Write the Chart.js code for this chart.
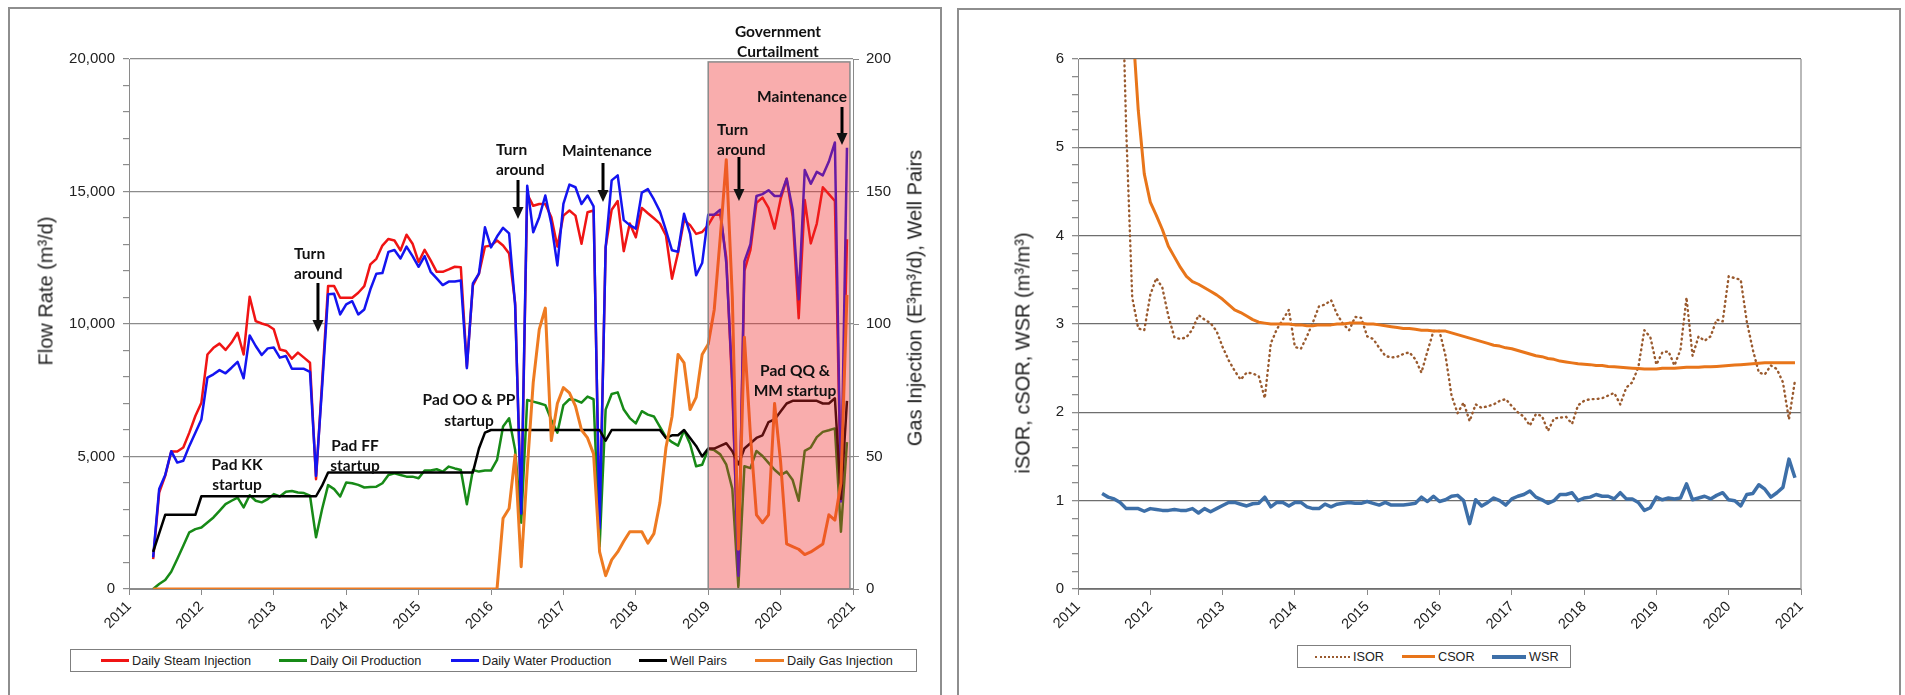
<!DOCTYPE html>
<html><head><meta charset="utf-8">
<script src="https://cdn.jsdelivr.net/npm/chart.js@4.4.1/dist/chart.umd.min.js"></script>
<style>
html,body{margin:0;padding:0;background:#fff;width:1905px;height:695px;overflow:hidden;font-family:"Liberation Sans",Arial,sans-serif;}
.frame{position:absolute;border:2px solid #8e8e8e;box-sizing:border-box;}
canvas{position:absolute;top:0;}
.ytitle{position:absolute;font-size:20px;color:#222;white-space:nowrap;transform:translate(-50%,-50%) rotate(-90deg);}
.legend{position:absolute;border:1px solid #7f7f7f;box-sizing:border-box;background:#fff;}
.li{position:absolute;top:0;height:100%;display:flex;align-items:center;font-size:12.7px;color:#222;white-space:nowrap;}
.sw{display:inline-block;height:0;margin-right:3px;}
</style></head><body>
<div class="frame" style="left:8px;top:7px;width:934px;height:690px;"></div>
<div class="frame" style="left:957px;top:8px;width:944px;height:690px;"></div>
<canvas id="c1" width="945" height="695" style="left:0;width:945px;height:695px;"></canvas>
<canvas id="c2" width="955" height="695" style="left:950px;width:955px;height:695px;"></canvas>
<div class="ytitle" style="left:46px;top:291px;">Flow Rate (m³/d)</div>
<div class="ytitle" style="left:915px;top:298px;">Gas Injection (E³m³/d), Well Pairs</div>
<div class="ytitle" style="left:1023px;top:353px;">iSOR, cSOR, WSR (m³/m³)</div>
<div class="legend" style="left:70px;top:649px;width:847px;height:23px;">
  <div class="li" style="left:30px;"><span class="sw" style="width:28px;border-top:3px solid #f01414;"></span>Daily Steam Injection</div>
  <div class="li" style="left:208px;"><span class="sw" style="width:28px;border-top:3px solid #178a17;"></span>Daily Oil Production</div>
  <div class="li" style="left:380px;"><span class="sw" style="width:28px;border-top:3px solid #1414f0;"></span>Daily Water Production</div>
  <div class="li" style="left:568px;"><span class="sw" style="width:28px;border-top:3px solid #000;"></span>Well Pairs</div>
  <div class="li" style="left:684px;"><span class="sw" style="width:29px;border-top:3px solid #ee7b22;"></span>Daily Gas Injection</div>
</div>
<div class="legend" style="left:1297px;top:645px;width:274px;height:23px;">
  <div class="li" style="left:17px;"><span class="sw" style="width:35px;border-top:2.5px dotted #9a5a2e;"></span>ISOR</div>
  <div class="li" style="left:104px;"><span class="sw" style="width:33px;border-top:3px solid #e8751a;"></span>CSOR</div>
  <div class="li" style="left:194px;"><span class="sw" style="width:34px;border-top:4px solid #3d6fa8;"></span>WSR</div>
</div>
<script>
// ---------- categories: monthly dates May 2011 .. Dec 2020 ----------
const firstMonth = {year: 2011, month: 5};
const monthCount = 116;
const months = [];
for (let k = 0; k < monthCount; k++) {
  const m0 = firstMonth.month - 1 + k;
  months.push((firstMonth.year + Math.floor(m0 / 12)) + '-' + String(m0 % 12 + 1).padStart(2, '0'));
}
const monthX = months.map(s => { const [y, m] = s.split('-').map(Number); return y + (m - 1) / 12; });

// ---------- left chart series (m3/d) ----------
const steamInjection = [1130,3640,4270,5190,5190,5340,5900,6530,7030,8850,
 9100,9260,9020,9300,9670,8850,11030,10110,10020,9950,
 9800,9040,8980,8690,8920,8730,8540,4140,7800,11430,
 11430,10990,10990,10990,11180,11430,12250,12460,12960,13210,
 13150,12780,13370,13030,12340,12800,12400,11970,11970,12060,
 12160,12140,8400,11460,11900,12920,12960,13150,12960,12660,
 10800,2800,14900,14460,14530,14530,14030,12920,14090,14280,
 14090,13030,14220,14280,2300,12900,14310,14640,12750,13790,
 13270,14380,14180,13990,13790,13340,11710,12690,13920,13730,
 13400,13470,13730,14120,14120,12500,7500,700,12000,12800,
 14570,14770,14380,13600,14710,15480,14050,10220,14680,13040,
 13790,15160,14900,14640,3500,13200];
const oilProduction = [0,190,340,650,1130,1630,2140,2260,2320,2510,
 2700,2950,3200,3330,3450,3080,3540,3330,3270,3390,
 3580,3490,3670,3700,3640,3620,3520,1950,3010,3920,
 3770,3490,4020,3990,3930,3830,3850,3860,3990,4300,
 4370,4300,4240,4240,4180,4470,4470,4520,4430,4620,
 4550,4490,3200,4490,4430,4470,4470,4870,6130,6440,
 5250,2500,7130,7070,7010,6940,6380,5900,6940,7160,
 7130,7030,7260,7160,1600,6770,7360,7420,6770,6450,
 6250,6710,6580,6510,6120,5730,5540,5410,5990,5470,
 4630,4690,5280,5240,5080,4690,3780,80,4630,4560,
 5210,5020,4760,4500,4300,4430,4110,3330,5210,5340,
 5730,5930,5990,6060,2160,5540];
const waterProduction = [1190,3770,4300,5200,4770,4840,5400,5900,6400,7980,
 8100,8260,8140,8350,8570,7950,9570,9170,8830,9080,
 9110,8730,8790,8310,8310,8310,8190,4270,7600,11120,
 11140,10360,10740,10860,10360,10550,11300,11900,11920,12720,
 12790,12470,12920,12560,12160,12560,11970,11720,11470,11600,
 11600,11640,8330,11530,11900,13650,12890,13300,13630,13420,
 10700,2850,15220,13460,14030,14850,13780,12210,14530,15260,
 15160,14530,14850,14440,2290,12880,15420,15610,13920,13730,
 13600,14960,15090,14700,14250,13530,12780,12730,14160,13400,
 11840,12300,14120,14120,14310,12300,7800,500,12360,13010,
 14830,14900,15050,14830,14830,15480,14310,10930,15810,15290,
 15740,15610,16130,16850,3300,16650];
// right axis (count / E3m3/d)
const wellPairs = [14,21,28,28,28,28,28,28,35,35,
 35,35,35,35,35,35,35,35,35,35,
 35,35,35,35,35,35,35,35,39,44,
 44,44,44,44,44,44,44,44,44,44,
 44,44,44,44,44,44,44,44,44,44,
 44,44,44,44,53,59,60,60,60,60,
 60,60,60,60,60,60,60,60,60,60,
 60,60,60,60,60,56,60,60,60,60,
 60,60,60,60,60,57,58,58,60,57,
 54,50,53,53,54,55,52,47,53,55,
 57,58,63,64,67,70,71,71,71,71,
 71,70,70,72,34,71];
const gasInjection = [0,0,0,0,0,0,0,0,0,0,
 0,0,0,0,0,0,0,0,0,0,
 0,0,0,0,0,0,0,0,0,0,
 0,0,0,0,0,0,0,0,0,0,
 0,0,0,0,0,0,0,0,0,0,
 0,0,0,0,0,0,0,0,26.7,30.4,
 50.6,8.4,45,78,98,106,56,70,76,74,
 69,60,57,51,14,5,11,14,18,21.6,
 21.6,21.6,17.3,20.9,32.6,53.4,65,88.5,85.3,67.7,
 72.3,88.5,92.4,105.4,132.7,162,110,15,95,58,
 28,25,28,70,48,17,16,15,13,14,
 15.5,17,28,26,40,111];

// ---------- right chart series (m3/m3) ----------
const isor = [null,19,12.6,7.8,5.2,3.3,2.95,2.93,3.33,3.52,
 3.41,3.09,2.85,2.83,2.85,2.94,3.10,3.05,3.01,2.92,
 2.74,2.59,2.47,2.37,2.45,2.44,2.41,2.16,2.78,2.94,
 3.05,3.16,2.74,2.72,2.86,3.02,3.2,3.22,3.27,3.11,
 3.0,2.93,3.08,3.07,2.86,2.83,2.73,2.64,2.62,2.63,
 2.66,2.68,2.60,2.45,2.69,2.92,2.92,2.64,2.19,1.99,
 2.11,1.90,2.09,2.05,2.07,2.09,2.13,2.15,2.07,2.0,
 1.95,1.85,1.98,1.96,1.79,1.93,1.94,1.95,1.87,2.08,
 2.13,2.15,2.15,2.16,2.19,2.22,2.09,2.28,2.34,2.51,
 2.93,2.85,2.54,2.68,2.69,2.53,2.71,3.3,2.64,2.86,
 2.81,2.86,3.05,3.03,3.54,3.52,3.5,3.03,2.71,2.45,
 2.43,2.53,2.49,2.34,1.92,2.36];
const csor = [null,18,12,9,7.5,6.45,5.42,4.7,4.38,4.23,
 4.07,3.88,3.76,3.64,3.54,3.48,3.45,3.41,3.37,3.33,
 3.28,3.22,3.16,3.13,3.09,3.05,3.02,3.01,3.0,3.0,
 3.0,3.0,2.99,2.99,2.98,2.98,2.99,2.99,2.99,3.0,
 3.0,3.01,3.01,3.01,3.0,3.0,2.99,2.98,2.97,2.96,
 2.95,2.95,2.94,2.93,2.93,2.92,2.92,2.92,2.90,2.88,
 2.86,2.84,2.82,2.80,2.78,2.76,2.75,2.73,2.72,2.70,
 2.68,2.66,2.64,2.63,2.61,2.60,2.58,2.57,2.56,2.55,
 2.545,2.54,2.53,2.53,2.52,2.515,2.51,2.505,2.50,2.495,
 2.49,2.49,2.49,2.50,2.50,2.50,2.505,2.51,2.51,2.51,
 2.515,2.515,2.52,2.525,2.53,2.535,2.54,2.545,2.55,2.555,
 2.56,2.56,2.56,2.56,2.56,2.56];
const wsr = [1.08,1.04,1.02,0.98,0.91,0.91,0.91,0.88,0.91,0.90,
 0.89,0.89,0.90,0.89,0.89,0.91,0.86,0.91,0.875,0.91,
 0.945,0.98,0.98,0.96,0.94,0.965,0.97,1.04,0.93,0.98,
 0.98,0.94,0.98,0.98,0.93,0.91,0.91,0.96,0.93,0.96,
 0.97,0.98,0.97,0.97,0.99,0.97,0.95,0.98,0.95,0.95,
 0.95,0.96,0.97,1.04,0.99,1.05,0.99,1.01,1.05,1.06,
 1.0,0.74,1.01,0.94,0.98,1.03,1.0,0.95,1.02,1.05,
 1.07,1.11,1.04,1.01,0.97,1.0,1.07,1.07,1.09,1.0,
 1.03,1.04,1.07,1.05,1.05,1.02,1.09,1.02,1.02,0.98,
 0.89,0.92,1.04,1.01,1.03,1.02,1.03,1.19,1.01,1.03,
 1.05,1.02,1.06,1.09,1.01,1.0,0.94,1.07,1.08,1.18,
 1.13,1.04,1.09,1.15,1.47,1.26];

// ---------- tick definitions ----------
const yearTicks = {min: 2011, max: 2021, step: 1};
const flowTicks = {min: 0, max: 20000, major: 5000, minor: 1000};
const gasTicks = {min: 0, max: 200, major: 50};
const ratioTicks = {min: 0, max: 6, major: 1, minor: 0.2};

// ---------- annotations (data coordinates of the left chart) ----------
const curtailment = {from: 2019.0, to: 2020.958, top: 19890};
const notes = [
  {text: 'Government', x: 2019.964, y: 21019, align: 'center'},
  {text: 'Curtailment', x: 2019.964, y: 20264, align: 'center'},
  {text: 'Maintenance', x: 2020.296, y: 18566, align: 'center'},
  {text: 'Turn', x: 2019.122, y: 17321, align: 'left'},
  {text: 'around', x: 2019.122, y: 16566, align: 'left'},
  {text: 'Turn', x: 2016.069, y: 16566, align: 'left'},
  {text: 'around', x: 2016.069, y: 15811, align: 'left'},
  {text: 'Maintenance', x: 2017.602, y: 16528, align: 'center'},
  {text: 'Turn', x: 2013.279, y: 12642, align: 'left'},
  {text: 'around', x: 2013.279, y: 11887, align: 'left'},
  {text: 'Pad KK', x: 2012.492, y: 4679, align: 'center'},
  {text: 'startup', x: 2012.492, y: 3925, align: 'center'},
  {text: 'Pad FF', x: 2014.122, y: 5396, align: 'center'},
  {text: 'startup', x: 2014.122, y: 4642, align: 'center'},
  {text: 'Pad OO & PP', x: 2015.696, y: 7132, align: 'center'},
  {text: 'startup', x: 2015.696, y: 6340, align: 'center'},
  {text: 'Pad QQ &', x: 2020.199, y: 8226, align: 'center'},
  {text: 'MM startup', x: 2020.199, y: 7472, align: 'center'}
];
const arrows = [
  {x: 2020.848, from: 18189, to: 16755},
  {x: 2019.425, from: 16302, to: 14642},
  {x: 2016.373, from: 15434, to: 13962},
  {x: 2017.547, from: 16075, to: 14604},
  {x: 2013.610, from: 11547, to: 9698}
];

// ---------- helpers ----------
const FONT = '"Liberation Sans", Arial, sans-serif';
Chart.defaults.font.family = FONT;
Chart.defaults.color = '#222';
const toPoints = vals => vals.map((v, i) => ({x: monthX[i], y: v}));
const isMult = (v, m) => Math.abs(v / m - Math.round(v / m)) < 1e-6;

const leftOverlay = {
  id: 'leftOverlay',
  afterDatasetsDraw(chart) {
    const {ctx, scales: {x, y}} = chart;
    const x0 = x.getPixelForValue(curtailment.from), x1 = x.getPixelForValue(curtailment.to);
    const y0 = y.getPixelForValue(curtailment.top), y1 = y.getPixelForValue(0);
    ctx.save();
    ctx.fillStyle = 'rgba(240,40,40,0.38)';
    ctx.fillRect(x0, y0, x1 - x0, y1 - y0);
    ctx.strokeStyle = '#8a8a8a';
    ctx.lineWidth = 1.5;
    ctx.strokeRect(x0, y0, x1 - x0, y1 - y0);
    ctx.restore();
  },
  afterDraw(chart) {
    const {ctx, scales: {x, y}} = chart;
    ctx.save();
    ctx.fillStyle = '#111';
    ctx.font = 'bold 15.5px Lato, "Open Sans", sans-serif';
    ctx.textBaseline = 'middle';
    notes.forEach(n => {
      ctx.textAlign = n.align;
      ctx.fillText(n.text, x.getPixelForValue(n.x), y.getPixelForValue(n.y));
    });
    ctx.strokeStyle = '#000';
    ctx.lineWidth = 3;
    arrows.forEach(a => {
      const px = x.getPixelForValue(a.x), top = y.getPixelForValue(a.from), tip = y.getPixelForValue(a.to);
      ctx.beginPath();
      ctx.moveTo(px, top);
      ctx.lineTo(px, tip - 10);
      ctx.stroke();
      ctx.beginPath();
      ctx.moveTo(px - 5.5, tip - 12);
      ctx.lineTo(px + 5.5, tip - 12);
      ctx.lineTo(px, tip);
      ctx.closePath();
      ctx.fill();
    });
    ctx.restore();
  }
};

const rightBorder = {
  id: 'rightBorder',
  afterDraw(chart) {
    const {ctx, chartArea: a} = chart;
    ctx.save();
    ctx.strokeStyle = '#8a8a8a';
    ctx.lineWidth = 1.2;
    ctx.beginPath();
    ctx.moveTo(a.right, a.top);
    ctx.lineTo(a.right, a.bottom);
    ctx.stroke();
    ctx.restore();
  }
};

const xScale = () => ({
  type: 'linear', min: yearTicks.min, max: yearTicks.max,
  ticks: {stepSize: yearTicks.step, callback: v => String(v), maxRotation: 45, minRotation: 45,
    autoSkip: false, font: {size: 14.5}, color: '#222', padding: 3},
  grid: {drawOnChartArea: false, tickLength: 6, color: '#8a8a8a'},
  border: {color: '#8a8a8a'},
  afterFit: s => { s.height = 106; }
});

new Chart(document.getElementById('c1'), {
  type: 'line',
  data: {datasets: [
    {label: 'Daily Steam Injection', data: toPoints(steamInjection), yAxisID: 'y', borderColor: '#f01414', borderWidth: 2.5, order: 4},
    {label: 'Daily Oil Production', data: toPoints(oilProduction), yAxisID: 'y', borderColor: '#178a17', borderWidth: 2.5, order: 3},
    {label: 'Daily Water Production', data: toPoints(waterProduction), yAxisID: 'y', borderColor: '#1414f0', borderWidth: 2.5, order: 2},
    {label: 'Well Pairs', data: toPoints(wellPairs), yAxisID: 'y2', borderColor: '#000', borderWidth: 2.5, order: 1},
    {label: 'Daily Gas Injection', data: toPoints(gasInjection), yAxisID: 'y2', borderColor: '#ee7b22', borderWidth: 3, order: 0}
  ]},
  options: {
    responsive: false, animation: false, devicePixelRatio: 1,
    layout: {padding: {top: 59, left: 0, right: 0, bottom: 0}, autoPadding: false},
    plugins: {legend: {display: false}, tooltip: {enabled: false}},
    elements: {point: {radius: 0}, line: {tension: 0, borderJoinStyle: 'round', fill: false}},
    scales: {
      x: xScale(),
      y: {position: 'left', min: flowTicks.min, max: flowTicks.max,
        ticks: {stepSize: flowTicks.minor, autoSkip: false, font: {size: 15}, color: '#222', padding: 8,
          callback: v => isMult(v, flowTicks.major) ? v.toLocaleString('en-US') : ''},
        grid: {color: c => (c.tick && isMult(c.tick.value, flowTicks.major)) ? '#8c8c8c' : 'rgba(0,0,0,0)',
          tickColor: '#8c8c8c', tickLength: 6, lineWidth: 1.2},
        border: {color: '#8a8a8a'},
        afterFit: s => { s.width = 129; }},
      y2: {position: 'right', min: gasTicks.min, max: gasTicks.max,
        ticks: {stepSize: gasTicks.major, autoSkip: false, font: {size: 15}, color: '#222', padding: 7},
        grid: {drawOnChartArea: false, tickColor: '#8c8c8c', tickLength: 6},
        border: {color: '#8a8a8a'},
        afterFit: s => { s.width = 92; }}
    }
  },
  plugins: [leftOverlay]
});

new Chart(document.getElementById('c2'), {
  type: 'line',
  data: {datasets: [
    {label: 'ISOR', data: toPoints(isor), borderColor: '#9a5a2e', borderWidth: 2.4, borderDash: [0.8, 4.2], borderCapStyle: 'round', order: 2},
    {label: 'CSOR', data: toPoints(csor), borderColor: '#e8751a', borderWidth: 3, order: 1},
    {label: 'WSR', data: toPoints(wsr), borderColor: '#3d6fa8', borderWidth: 3.5, order: 0}
  ]},
  options: {
    responsive: false, animation: false, devicePixelRatio: 1,
    layout: {padding: {top: 59, left: 0, right: 104, bottom: 0}, autoPadding: false},
    plugins: {legend: {display: false}, tooltip: {enabled: false}},
    elements: {point: {radius: 0}, line: {tension: 0, borderJoinStyle: 'round', fill: false}},
    scales: {
      x: xScale(),
      y: {position: 'left', min: ratioTicks.min, max: ratioTicks.max,
        ticks: {stepSize: ratioTicks.minor, autoSkip: false, font: {size: 15}, color: '#222', padding: 8,
          callback: v => isMult(v, ratioTicks.major) ? String(Math.round(v)) : ''},
        grid: {color: c => (c.tick && isMult(c.tick.value, ratioTicks.major)) ? '#6e6e6e' : 'rgba(0,0,0,0)',
          tickColor: '#8c8c8c', tickLength: 6, lineWidth: 1.3},
        border: {color: '#8a8a8a'},
        afterFit: s => { s.width = 128; }}
    }
  },
  plugins: [rightBorder]
});
</script>
</body></html>
